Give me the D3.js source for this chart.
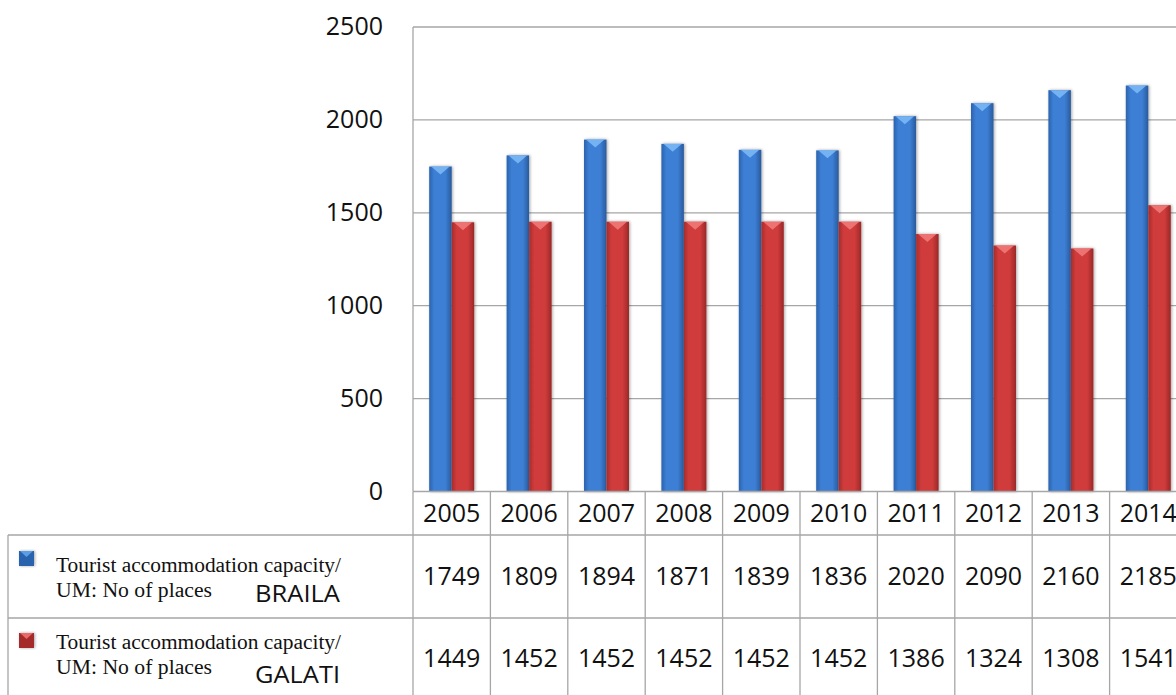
<!DOCTYPE html>
<html><head><meta charset="utf-8">
<script src="https://cdn.jsdelivr.net/npm/d3@7"></script>
<style>html,body{margin:0;padding:0;background:#fff;overflow:hidden}</style>
</head><body>
<svg id="c" width="1176" height="695"></svg>
<script>
const years = ["2005","2006","2007","2008","2009","2010","2011","2012","2013","2014"];
const braila = [1749,1809,1894,1871,1839,1836,2020,2090,2160,2185];
const galati = [1449,1452,1452,1452,1452,1452,1386,1324,1308,1541];
const yTicks = [0,500,1000,1500,2000,2500];
const seriesNames = ["BRAILA","GALATI"];
const legendLine1 = "Tourist accommodation capacity/";
const legendLine2 = "UM: No of places";

(function(){
const svg = d3.select("#c");
const pLeft = 413, pTop = 27, pBottom = 491.5, catW = 77.4;
const x = d3.scaleBand().domain(years).range([pLeft, pLeft + catW*years.length]).paddingInner(0).paddingOuter(0);
const y = d3.scaleLinear().domain([0,2500]).range([pBottom, pTop]);
const sub = d3.scaleBand().domain([0,1]).range([0, x.bandwidth()]).paddingInner(0).paddingOuter(0.72);

const defs = svg.append("defs");
function grad(id, dark, mid, light){
  const g = defs.append("linearGradient").attr("id",id).attr("x1","0").attr("x2","1").attr("y1","0").attr("y2","0");
  g.append("stop").attr("offset","0").attr("stop-color",dark);
  g.append("stop").attr("offset","0.22").attr("stop-color",mid);
  g.append("stop").attr("offset","0.72").attr("stop-color",mid);
  g.append("stop").attr("offset","1").attr("stop-color",light);
}
grad("gb","#2c63ad","#3c7fd5","#2a5a9c");
grad("gr","#a52c2c","#d03b3b","#9a2828");
const f = defs.append("filter").attr("id","sh").attr("x","-30%").attr("y","-10%").attr("width","160%").attr("height","120%");
f.append("feGaussianBlur").attr("in","SourceAlpha").attr("stdDeviation","1.5");
f.append("feOffset").attr("dx","1").attr("dy","0").attr("result","b");
f.append("feComponentTransfer").append("feFuncA").attr("type","linear").attr("slope","0.35");
const fm = f.append("feMerge"); fm.append("feMergeNode"); fm.append("feMergeNode").attr("in","SourceGraphic");

const gridC = "#a6a6a6";
svg.append("g").selectAll("line").data(yTicks.filter(d=>d>0)).join("line")
  .attr("x1",pLeft).attr("x2",1176).attr("y1",d=>y(d)).attr("y2",d=>y(d))
  .attr("stroke",gridC).attr("stroke-width",1.3);
svg.append("line").attr("x1",pLeft).attr("x2",pLeft).attr("y1",pTop).attr("y2",pBottom).attr("stroke",gridC).attr("stroke-width",1.3);

svg.append("g").selectAll("text").data(yTicks).join("text")
  .attr("x",383).attr("y",d=>y(d)+8).attr("text-anchor","end")
  .attr("font-family","Open Sans").attr("font-size",25).attr("fill","#111").text(d=>d);

const series = [{vals:braila, fill:"url(#gb)", topc:"#7ab8f5", i:0},{vals:galati, fill:"url(#gr)", topc:"#f07a7a", i:1}];
series.forEach(s=>{
  const g = svg.append("g").attr("filter","url(#sh)");
  g.selectAll("rect").data(years).join("rect")
    .attr("x",d=>x(d)+sub(s.i)).attr("width",sub.bandwidth())
    .attr("y",(d,k)=>y(s.vals[k])).attr("height",(d,k)=>pBottom-y(s.vals[k]))
    .attr("fill",s.fill);
  g.selectAll("path").data(years).join("path")
    .attr("d",(d,k)=>{const x0=x(d)+sub(s.i), w=sub.bandwidth(), yy=y(s.vals[k]);
      return `M${x0+2},${yy}L${x0+w-2},${yy}L${x0+w/2},${yy+8}Z`;})
    .attr("fill",s.topc).attr("opacity",0.9);
});

const tC = "#a6a6a6";
svg.append("line").attr("x1",pLeft).attr("x2",1176).attr("y1",pBottom).attr("y2",pBottom).attr("stroke",tC).attr("stroke-width",1.3);
svg.append("line").attr("x1",8).attr("x2",1176).attr("y1",535).attr("y2",535).attr("stroke",tC).attr("stroke-width",1.3);
svg.append("line").attr("x1",8).attr("x2",1176).attr("y1",618).attr("y2",618).attr("stroke",tC).attr("stroke-width",1.3);
svg.append("line").attr("x1",8).attr("x2",8).attr("y1",535).attr("y2",695).attr("stroke",tC).attr("stroke-width",1.3);
const seps = years.map(d=>x(d)).concat([x(years[years.length-1])+x.bandwidth()]);
svg.append("g").selectAll("line").data(seps).join("line")
  .attr("x1",d=>d).attr("x2",d=>d).attr("y1",pBottom).attr("y2",695)
  .attr("stroke",tC).attr("stroke-width",1.3);

svg.append("g").selectAll("text").data(years).join("text")
  .attr("x",d=>x(d)+x.bandwidth()/2).attr("y",522).attr("text-anchor","middle")
  .attr("font-family","Open Sans").attr("font-size",25).attr("fill","#111").text(d=>d);
[[braila,585],[galati,667]].forEach(([vals,yy])=>{
  svg.append("g").selectAll("text").data(years).join("text")
    .attr("x",d=>x(d)+x.bandwidth()/2).attr("y",yy).attr("text-anchor","middle")
    .attr("font-family","Open Sans").attr("font-size",25).attr("fill","#111").text((d,k)=>vals[k]);
});

const legRows = [{y0:551, name:seriesNames[0], c1:"#2c63ad", c2:"#5d9de6", l1:572, l2:597, n:602},
                 {y0:633, name:seriesNames[1], c1:"#a52c2c", c2:"#e86a6a", l1:649, l2:674, n:683}];
legRows.forEach(r=>{
  svg.append("rect").attr("x",19).attr("y",r.y0).attr("width",15).attr("height",15).attr("fill",r.c1).attr("filter","url(#sh)");
  svg.append("path").attr("d",`M20,${r.y0}L33,${r.y0}L26.5,${r.y0+6}Z`).attr("fill",r.c2);
  svg.append("text").attr("x",56).attr("y",r.l1).attr("font-family","Liberation Serif").attr("font-size",20)
    .attr("fill","#111").attr("textLength",285).attr("lengthAdjust","spacingAndGlyphs").text(legendLine1);
  svg.append("text").attr("x",56).attr("y",r.l2).attr("font-family","Liberation Serif").attr("font-size",20)
    .attr("fill","#111").attr("textLength",156).attr("lengthAdjust","spacingAndGlyphs").text(legendLine2);
  svg.append("text").attr("x",255).attr("y",r.n).attr("font-family","Open Sans").attr("font-size",24)
    .attr("fill","#111").attr("textLength",85).attr("lengthAdjust","spacingAndGlyphs").text(r.name);
});
})();
</script>
</body></html>
